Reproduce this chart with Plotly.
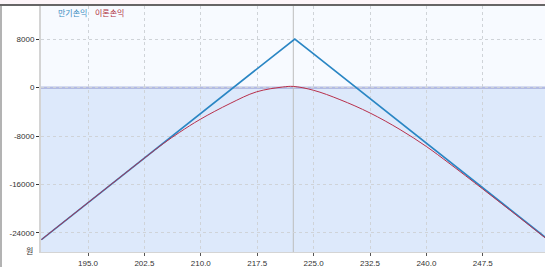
import plotly.graph_objects as go

# Expiry P&L (만기손익)
blue_x = [188.8, 195.0, 202.5, 210.0, 217.5, 222.5, 225.0, 232.5, 240.0, 247.5, 255.8]
blue_y = [-25150, -19040, -11650, -4260, 3130, 8050, 5590, -1800, -9190, -16580, -24750]

# Theoretical P&L (이론손익)
red_x = [188.8, 195.0, 202.5, 205.0, 207.2, 209.9, 213.9, 217.4, 220.9, 222.3,
         225.0, 228.5, 232.5, 236.5, 240.0, 243.0, 247.5, 251.5, 255.8]
red_y = [-25140, -19030, -11660, -9270, -7370, -5260, -2620, -700, 100, 200,
         -440, -1980, -4190, -6940, -9740, -12490, -16775, -20640, -24850]

x_ticks = [195.0, 202.5, 210.0, 217.5, 225.0, 232.5, 240.0, 247.5]
x_labels = ["195.0", "202.5", "210.0", "217.5", "225.0", "232.5", "240.0", "247.5"]
y_ticks = [8000, 0, -8000, -16000, -24000]
y_labels = ["8000", "0", "-8000", "-16000", "-24000"]

cursor_x = 222.3
x_range = [188.75, 255.77]
y_range = [-27190, 13505]

W, H = 545, 267
L, R, T, B = 41, 0, 6, 15
pw, ph = W - L - R, H - T - B

fig = go.Figure()
fig.add_trace(go.Scatter(x=blue_x, y=blue_y, mode="lines",
                         line=dict(color="#2a86c4", width=1.7), name="만기손익"))
fig.add_trace(go.Scatter(x=red_x, y=red_y, mode="lines", line_shape="spline",
                         line=dict(color="#b8304c", width=1), name="이론손익"))

shapes = [
    dict(type="rect", xref="paper", yref="y", x0=0, x1=1, y0=y_range[0], y1=0,
         fillcolor="#dde9fb", line=dict(width=0), layer="below"),
    dict(type="line", xref="paper", yref="y", x0=0, x1=1, y0=0, y1=0,
         line=dict(color="#b3bbe3", width=2.5), layer="between"),
    dict(type="line", xref="x", yref="paper", x0=cursor_x, x1=cursor_x, y0=0, y1=1,
         line=dict(color="#bdbdbd", width=1), layer="between"),
    dict(type="rect", xref="paper", yref="paper", x0=-L / pw, x1=1, y0=1 + 1 / ph, y1=1 + 6 / ph,
         fillcolor="#fdf5f9", line=dict(width=0), layer="above"),
    dict(type="line", xref="paper", yref="paper", x0=-L / pw, x1=1, y0=1 + 1 / ph, y1=1 + 1 / ph,
         line=dict(color="#333333", width=1.5), layer="above"),
    dict(type="line", xref="paper", yref="paper", x0=-40 / pw, x1=-40 / pw, y0=-B / ph, y1=1,
         line=dict(color="#9a9a9a", width=1.5), layer="above"),
]

annotations = [
    dict(text="만기손익", xref="paper", yref="paper", x=(72.5 - L) / pw, y=(H - B - 12) / ph,
         showarrow=False, font=dict(family="Noto Sans CJK KR", size=8, color="#3a8dbf"),
         xanchor="center", yanchor="middle"),
    dict(text="이론손익", xref="paper", yref="paper", x=(109.5 - L) / pw, y=(H - B - 12) / ph,
         showarrow=False, font=dict(family="Noto Sans CJK KR", size=8, color="#b03040"),
         xanchor="center", yanchor="middle"),
    dict(text="원", xref="paper", yref="paper", x=(29.5 - L) / pw, y=(H - B - 250) / ph,
         showarrow=False, font=dict(family="Noto Sans CJK KR", size=8, color="#333333"),
         xanchor="center", yanchor="middle"),
]

fig.update_layout(
    width=W, height=H,
    margin=dict(l=L, r=R, t=T, b=B, pad=0),
    paper_bgcolor="white", plot_bgcolor="#f7faff",
    showlegend=False,
    shapes=shapes, annotations=annotations,
    font=dict(family="Liberation Sans", size=8, color="#333333"),
)
fig.update_xaxes(range=x_range, tickvals=x_ticks, ticktext=x_labels,
                 showgrid=True, gridcolor="#cfd3d8", griddash="3px,3px", gridwidth=1,
                 zeroline=False, showline=True, linecolor="#d4d4d4", linewidth=1,
                 ticks="outside", ticklen=3, tickcolor="#555555", tickfont=dict(size=8))
fig.update_yaxes(range=y_range, tickvals=y_ticks, ticktext=y_labels,
                 showgrid=True, gridcolor="#cfd3d8", griddash="3px,3px", gridwidth=1,
                 zeroline=False, showline=True, linecolor="#d4d4d4", linewidth=2,
                 ticks="outside", ticklen=3, tickcolor="#333333", tickfont=dict(size=8))

fig.write_html("out.html")
